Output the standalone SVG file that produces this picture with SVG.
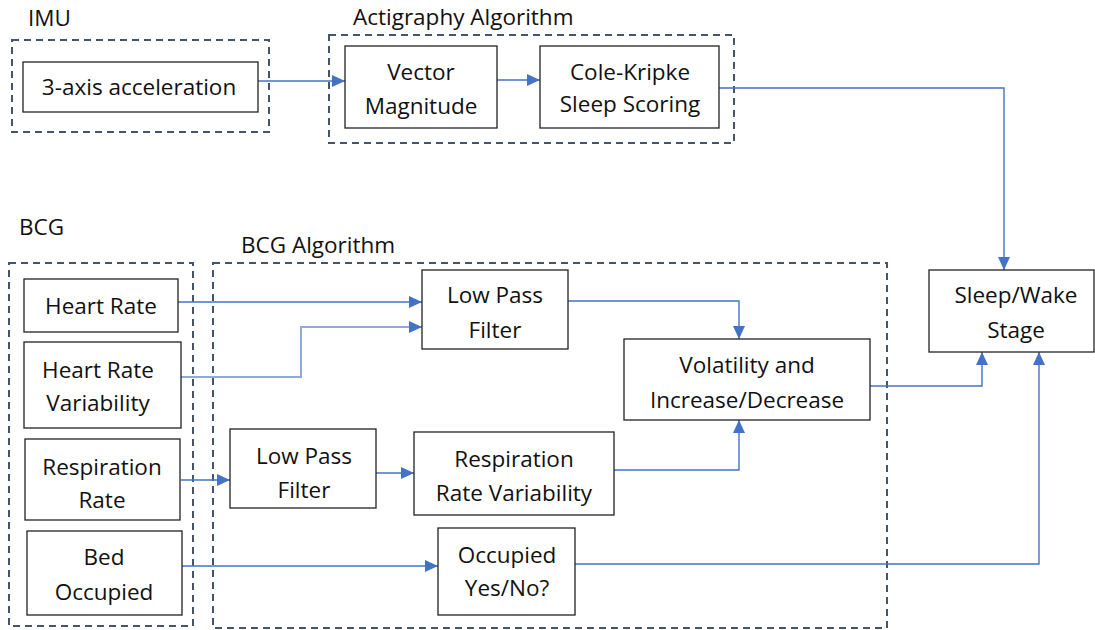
<svg xmlns="http://www.w3.org/2000/svg" width="1095" height="630" viewBox="0 0 1095 630">
<style>
text{font-family:"Open Sans","Liberation Sans",sans-serif;font-size:22.5px;fill:#111;}
.t{text-anchor:middle;}
.grp{fill:none;stroke:#44546A;stroke-width:2;stroke-dasharray:7,5;}
.box{fill:#fff;stroke:#222;stroke-width:1.3;}
.c{fill:none;stroke:#4472C4;stroke-width:1.4;marker-end:url(#ah);}
.cl{fill:none;stroke:#8FAADC;stroke-width:2;marker-end:url(#ah);}
</style>
<defs>
<marker id="ah" markerUnits="userSpaceOnUse" markerWidth="13" markerHeight="12" refX="13" refY="6" orient="auto">
<path d="M0,0 L13,6 L0,12 z" fill="#4472C4"/>
</marker>
</defs>
<rect width="1095" height="630" fill="#fff"/>
<g id="groups">
<rect class="grp" x="12" y="40" width="257" height="92"/>
<rect class="grp" x="329" y="35" width="405" height="108"/>
<rect class="grp" x="9" y="263" width="184" height="363"/>
<rect class="grp" x="213" y="263" width="674" height="365"/>
<text x="28" y="26">IMU</text>
<text x="353" y="25">Actigraphy Algorithm</text>
<text x="19" y="235">BCG</text>
<text x="241" y="253">BCG Algorithm</text>
</g>
<g id="connectors">
<path class="c" d="M258,81 H345"/>
<path class="c" d="M497,80 H540"/>
<path class="c" d="M719,88 H1004 V270"/>
<path class="c" d="M178,302 H422"/>
<path class="cl" d="M181,377 H301 V327 H422"/>
<path class="c" d="M568,301 H739 V339"/>
<path class="c" d="M181,480 H230"/>
<path class="c" d="M376,473 H414"/>
<path class="c" d="M614,470 H739 V420"/>
<path class="c" d="M870,386 H982 V352"/>
<path class="c" d="M182,566 H438"/>
<path class="c" d="M575,564 H1039 V352"/>
</g>
<g id="n-accel"><rect class="box" x="23" y="62" width="235" height="50"/><text class="t" x="139" y="95">3-axis acceleration</text></g>
<g id="n-vector"><rect class="box" x="345" y="46" width="152" height="82"/><text class="t" x="421" y="80">Vector</text><text class="t" x="421" y="114">Magnitude</text></g>
<g id="n-cole"><rect class="box" x="540" y="46" width="179" height="82"/><text class="t" x="630" y="80">Cole-Kripke</text><text class="t" x="630" y="112">Sleep Scoring</text></g>
<g id="n-sleepwake"><rect class="box" x="929" y="270" width="165" height="82"/><text class="t" x="1016" y="303">Sleep/Wake</text><text class="t" x="1016" y="338">Stage</text></g>
<g id="n-hr"><rect class="box" x="24" y="279" width="154" height="53"/><text class="t" x="101" y="314">Heart Rate</text></g>
<g id="n-hrv"><rect class="box" x="24" y="342" width="157" height="86"/><text class="t" x="98" y="378">Heart Rate</text><text class="t" x="98" y="411">Variability</text></g>
<g id="n-rr"><rect class="box" x="25" y="439" width="155" height="81"/><text class="t" x="102" y="475">Respiration</text><text class="t" x="102" y="508">Rate</text></g>
<g id="n-bed"><rect class="box" x="27" y="531" width="155" height="84"/><text class="t" x="104" y="565">Bed</text><text class="t" x="104" y="600">Occupied</text></g>
<g id="n-lpf1"><rect class="box" x="422" y="270" width="146" height="79"/><text class="t" x="495" y="303">Low Pass</text><text class="t" x="495" y="338">Filter</text></g>
<g id="n-vol"><rect class="box" x="624" y="339" width="246" height="81"/><text class="t" x="747" y="373">Volatility and</text><text class="t" x="747" y="408">Increase/Decrease</text></g>
<g id="n-lpf2"><rect class="box" x="230" y="429" width="146" height="79"/><text class="t" x="304" y="464">Low Pass</text><text class="t" x="304" y="498">Filter</text></g>
<g id="n-rrv"><rect class="box" x="414" y="432" width="200" height="83"/><text class="t" x="514" y="467">Respiration</text><text class="t" x="514" y="501">Rate Variability</text></g>
<g id="n-occ"><rect class="box" x="438" y="528" width="137" height="87"/><text class="t" x="507" y="563">Occupied</text><text class="t" x="507" y="596">Yes/No?</text></g>
</svg>
